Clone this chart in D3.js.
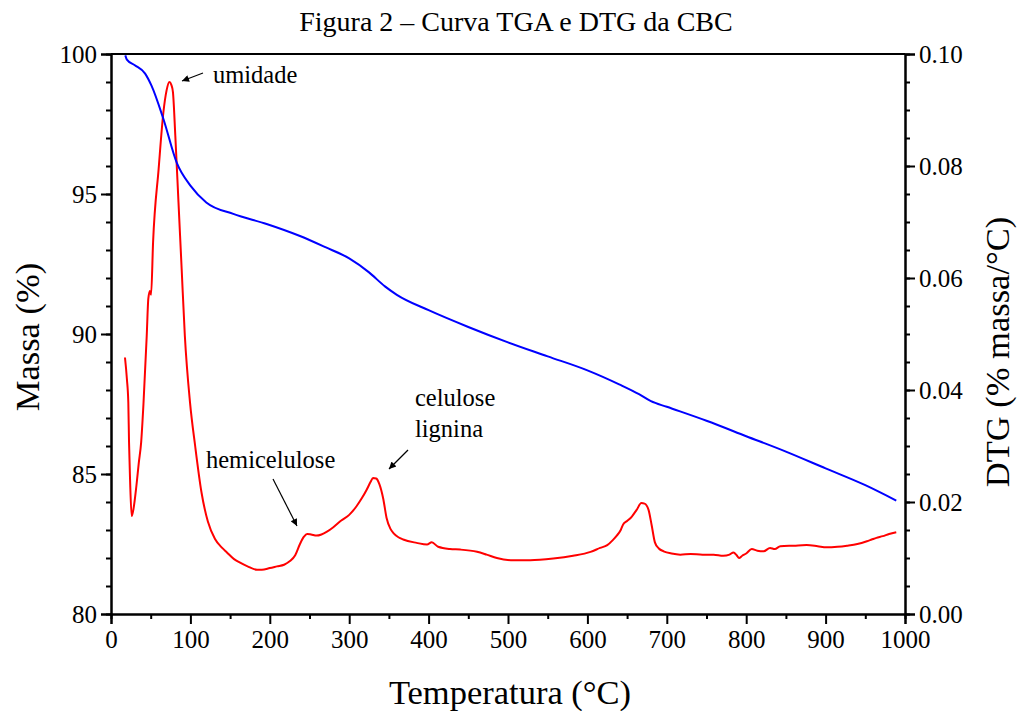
<!DOCTYPE html>
<html>
<head>
<meta charset="utf-8">
<script src="https://d3js.org/d3.v7.min.js"></script>
<style>
  body { margin: 0; background: #fff; }
  svg text { font-family: "Liberation Serif", "Times New Roman", serif; fill: #000; }
</style>
</head>
<body>
<svg id="chart"></svg>
<script>
// TGA: temperatura (°C) e massa (%)
const tgaTemp = [18, 20, 30, 43, 51, 66, 83, 100, 120, 154, 196, 238, 270, 300, 325, 345, 360, 400, 450, 500, 550, 600, 640, 665, 680, 700, 750, 800, 850, 900, 950, 989];
const tgaMass = [99.95, 99.8, 99.6, 99.3, 98.87, 97.68, 96.1, 95.3, 94.7, 94.29, 93.93, 93.5, 93.1, 92.7, 92.2, 91.7, 91.4, 90.85, 90.25, 89.7, 89.2, 88.7, 88.2, 87.85, 87.6, 87.4, 86.9, 86.35, 85.8, 85.2, 84.6, 84.05];

// DTG: temperatura (°C) e % massa/°C
const dtgTemp = [17.6, 20, 21.8, 22.7, 24, 26, 28, 32, 35, 38, 41, 45, 47, 49, 50.5, 53, 60, 66, 70, 73.5, 76, 78, 81, 85, 89, 93, 99.5, 106, 114, 122, 131, 140, 146, 155, 162, 172, 184, 190, 200, 209, 218, 225, 232, 238, 243, 247, 252, 259, 265, 272, 280, 290, 300, 309, 316, 322, 327, 330, 334, 338, 343, 347, 352, 356, 362, 368, 385, 398, 404, 412, 427, 440, 461, 473, 486, 507, 528, 557, 582, 604, 616, 625, 632, 637, 642, 645, 650, 656, 662, 668, 672, 677, 681, 685, 690, 696, 706, 717, 730, 745, 759, 771, 779, 784, 788, 791, 795, 800, 807, 814, 822, 830, 836, 843, 860, 876, 890, 901, 915, 927, 940, 952, 958, 964, 972, 980, 989];
const dtgVal = [0.0458, 0.042, 0.0378, 0.0307, 0.024, 0.0175, 0.0185, 0.0229, 0.027, 0.0307, 0.0378, 0.0497, 0.0563, 0.0577, 0.057, 0.0664, 0.0795, 0.0896, 0.0935, 0.095, 0.0945, 0.0932, 0.0854, 0.0735, 0.0616, 0.0497, 0.0378, 0.030, 0.0217, 0.0165, 0.0134, 0.0118, 0.011, 0.0098, 0.0092, 0.0085, 0.0079, 0.0079, 0.0082, 0.0085, 0.0088, 0.0094, 0.0105, 0.0125, 0.0138, 0.0143, 0.0142, 0.014, 0.0142, 0.0147, 0.0155, 0.0167, 0.0177, 0.0192, 0.0207, 0.0222, 0.0236, 0.0243, 0.0242, 0.0232, 0.0205, 0.0172, 0.0152, 0.0144, 0.0137, 0.0133, 0.0127, 0.0124, 0.0128, 0.012, 0.0116, 0.0115, 0.0111, 0.0106, 0.0100, 0.0096, 0.0096, 0.0099, 0.0104, 0.0111, 0.0118, 0.0123, 0.0132, 0.0140, 0.0150, 0.0160, 0.0166, 0.0174, 0.0186, 0.0198, 0.0197, 0.0186, 0.0158, 0.0128, 0.0117, 0.0112, 0.0108, 0.0106, 0.0107, 0.0106, 0.0106, 0.0104, 0.0106, 0.0110, 0.0105, 0.0100, 0.0104, 0.0108, 0.0116, 0.0113, 0.0112, 0.0118, 0.0116, 0.0121, 0.0122, 0.0123, 0.0121, 0.0119, 0.0120, 0.0122, 0.0125, 0.0130, 0.0133, 0.0136, 0.0139, 0.0143, 0.0146];

const titleText = "Figura 2 – Curva TGA e DTG da CBC";
const notes = [
  { lines: ["umidade"], x: 213, y: 83, arrow: [203, 73, 182, 81] },
  { lines: ["hemicelulose"], x: 206, y: 468, arrow: [273, 479, 297, 526] },
  { lines: ["celulose", "lignina"], x: 415, y: 406, arrow: [408, 450, 389, 469] }
];

const width = 1024, height = 711;
const margin = { top: 54, right: 119, bottom: 97, left: 111 };

const svg = d3.select("#chart").attr("width", width).attr("height", height);

const x = d3.scaleLinear().domain([0, 1000]).range([margin.left, width - margin.right]);
const yL = d3.scaleLinear().domain([80, 100]).range([height - margin.bottom, margin.top]);
const yR = d3.scaleLinear().domain([0, 0.10]).range([height - margin.bottom, margin.top]);

svg.append("defs").append("marker")
  .attr("id", "head")
  .attr("viewBox", "0 0 10 10")
  .attr("refX", 10).attr("refY", 5)
  .attr("markerWidth", 11).attr("markerHeight", 7)
  .attr("markerUnits", "userSpaceOnUse")
  .attr("orient", "auto")
  .append("path").attr("d", "M0,0 L10,5 L0,10 Z").attr("fill", "#000");

// curvas
const lineTga = d3.line().curve(d3.curveMonotoneX)
  .x((d, i) => x(tgaTemp[i])).y(d => yL(d));
const lineDtg = d3.line().curve(d3.curveMonotoneX)
  .x((d, i) => x(dtgTemp[i])).y(d => yR(d));

svg.append("path").datum(dtgVal).attr("d", lineDtg)
  .attr("fill", "none").attr("stroke", "#ff0000").attr("stroke-width", 2);
svg.append("path").datum(tgaMass).attr("d", lineTga)
  .attr("fill", "none").attr("stroke", "#0000ff").attr("stroke-width", 2);

// eixos
function styleAxis(g) {
  g.select(".domain").attr("stroke", "#000").attr("stroke-width", 2);
  g.selectAll(".tick line").attr("stroke", "#000").attr("stroke-width", 2);
  g.selectAll(".tick text").style("font-size", "25px").style("font-family", "Liberation Serif, serif");
}

const bottom = height - margin.bottom;
// ticks menores
svg.append("g").attr("transform", `translate(0,${bottom})`)
  .call(d3.axisBottom(x).tickValues(d3.range(50, 1000, 100)).tickSize(5).tickFormat(""))
  .call(styleAxis);
svg.append("g").attr("transform", `translate(${margin.left},0)`)
  .call(d3.axisLeft(yL).tickValues(d3.range(81, 100, 1)).tickSize(5).tickFormat(""))
  .call(styleAxis);
svg.append("g").attr("transform", `translate(${width - margin.right},0)`)
  .call(d3.axisRight(yR).tickValues(d3.range(0.005, 0.1, 0.005)).tickSize(5).tickFormat(""))
  .call(styleAxis);

// ticks principais
svg.append("g").attr("transform", `translate(0,${bottom})`)
  .call(d3.axisBottom(x).tickValues(d3.range(0, 1001, 100)).tickSize(10).tickPadding(6).tickFormat(d3.format("d")))
  .call(styleAxis);
svg.append("g").attr("transform", `translate(${margin.left},0)`)
  .call(d3.axisLeft(yL).tickValues(d3.range(80, 101, 5)).tickSize(10).tickPadding(4).tickFormat(d3.format("d")))
  .call(styleAxis);
svg.append("g").attr("transform", `translate(${width - margin.right},0)`)
  .call(d3.axisRight(yR).tickValues([0, 0.02, 0.04, 0.06, 0.08, 0.10]).tickSize(10).tickPadding(4).tickFormat(d3.format(".2f")))
  .call(styleAxis);

// moldura superior
svg.append("line")
  .attr("x1", margin.left).attr("x2", width - margin.right)
  .attr("y1", margin.top).attr("y2", margin.top)
  .attr("stroke", "#000").attr("stroke-width", 2);

// títulos
svg.append("text").attr("x", 516).attr("y", 31)
  .attr("text-anchor", "middle").style("font-size", "28px").text(titleText);
svg.append("text").attr("x", 510).attr("y", 704)
  .attr("text-anchor", "middle").style("font-size", "34.5px").text("Temperatura (°C)");
svg.append("text").attr("transform", "translate(39,337) rotate(-90)")
  .attr("text-anchor", "middle").style("font-size", "34.5px").text("Massa (%)");
svg.append("text").attr("transform", "translate(1009,352) rotate(-90)")
  .attr("text-anchor", "middle").style("font-size", "34.5px").text("DTG (% massa/°C)");

// anotações
notes.forEach(n => {
  const t = svg.append("text").attr("x", n.x).attr("y", n.y).style("font-size", "24.5px");
  n.lines.forEach((s, i) => t.append("tspan").attr("x", n.x).attr("dy", i ? 31 : 0).text(s));
  svg.append("line")
    .attr("x1", n.arrow[0]).attr("y1", n.arrow[1]).attr("x2", n.arrow[2]).attr("y2", n.arrow[3])
    .attr("stroke", "#000").attr("stroke-width", 1.2).attr("marker-end", "url(#head)");
});
</script>
</body>
</html>
